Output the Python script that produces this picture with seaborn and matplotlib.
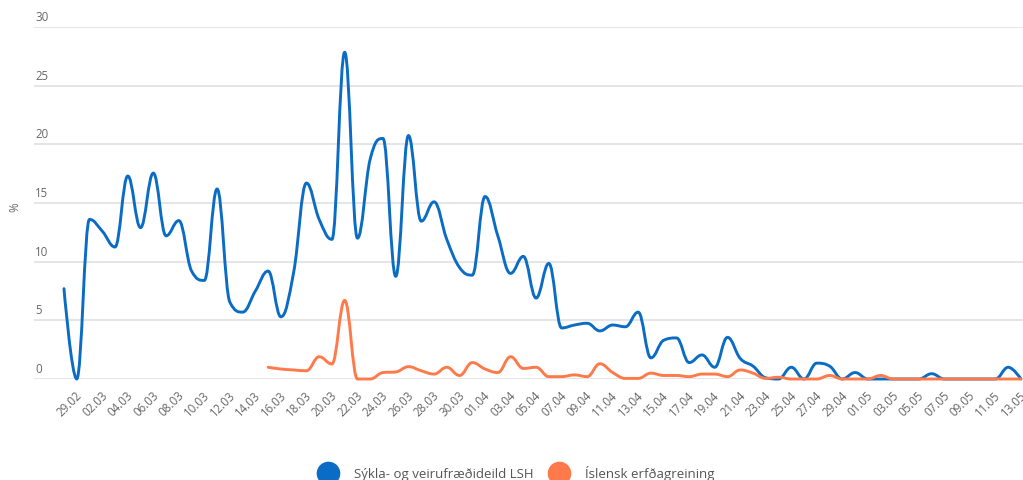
# Hlutfall jákvæðra sýna eftir rannsóknaraðila (LSH / ÍE)
import numpy as np
import pandas as pd
import matplotlib
matplotlib.use("Agg")
import matplotlib.pyplot as plt
import matplotlib.transforms as mtransforms
from matplotlib.path import Path
from matplotlib.patches import PathPatch
from matplotlib.lines import Line2D
import seaborn as sns

# --------------------------------------------
# Data
# --------------------------------------------
dates = pd.date_range("2020-02-28", "2020-05-13", freq="D")
day_labels = dates.strftime("%d.%m").tolist()

series_names = ["Sýkla- og veirufræðideild LSH", "Íslensk erfðagreining"]
series_colors = ["#0a6cc4", "#ff7a4a"]

lsh = [7.7, 0.0, 13.6, 12.6, 11.25, 17.3, 12.9, 17.55, 12.2, 13.5,
       9.2, 8.4, 16.2, 6.55, 5.7, 7.5, 9.2, 5.3, 9.1, 16.7,
       13.6, 11.9, 27.85, 12.0, 18.75, 20.5, 8.75, 20.75, 13.45, 15.1,
       11.9, 9.5, 8.85, 15.55, 12.2, 9.0, 10.45, 6.9, 9.85, 4.35,
       4.6, 4.75, 4.1, 4.6, 4.45, 5.7, 1.8, 3.3, 3.5, 1.4,
       2.05, 1.0, 3.55, 1.75, 1.1, 0.1, 0.0, 1.0, 0.0, 1.35,
       1.1, 0.0, 0.55, 0.0, 0.0, 0.0, 0.0, 0.0, 0.45, 0.0,
       0.0, 0.0, 0.0, 0.0, 1.0, 0.0]

ie = [None] * 16 + [
      1.0, 0.85, 0.77, 0.7, 1.9, 1.28, 6.7, 0.0, 0.0, 0.55,
      0.6, 1.05, 0.7, 0.42, 1.0, 0.3, 1.4, 0.85, 0.55, 1.9,
      0.9, 1.0, 0.2, 0.2, 0.35, 0.2, 1.3, 0.55, 0.05, 0.05,
      0.5, 0.3, 0.3, 0.2, 0.42, 0.42, 0.2, 0.77, 0.5, 0.05,
      0.15, 0.0, 0.0, 0.0, 0.3, 0.0, 0.0, 0.0, 0.3, 0.0,
      0.0, 0.0, 0.0, 0.0, 0.0, 0.0, 0.0, 0.0, 0.0, 0.0]

y_ticks = [0, 5, 10, 15, 20, 25, 30]

df = pd.DataFrame({
    "dagur": np.arange(len(day_labels)),
    "label": day_labels,
    series_names[0]: pd.array(lsh, dtype="Float64"),
    series_names[1]: pd.array(ie, dtype="Float64"),
})


# --------------------------------------------
# Spline helper (same control points as a Highcharts spline)
# --------------------------------------------
def spline_path(xs, ys, smoothing=1.5):
    pts = list(zip(xs, ys))
    n = len(pts)
    denom = smoothing + 1
    left_c = list(pts)
    right_c = list(pts)
    for i in range(1, n - 1):
        x, y = pts[i]
        lx, ly = pts[i - 1]
        nx, ny = pts[i + 1]
        lcx, lcy = (smoothing * x + lx) / denom, (smoothing * y + ly) / denom
        rcx, rcy = (smoothing * x + nx) / denom, (smoothing * y + ny) / denom
        if rcx != lcx:
            corr = (rcy - lcy) * (rcx - x) / (rcx - lcx) + y - rcy
            lcy += corr
            rcy += corr
        if lcy > ly and lcy > y:
            lcy = max(ly, y); rcy = 2 * y - lcy
        elif lcy < ly and lcy < y:
            lcy = min(ly, y); rcy = 2 * y - lcy
        if rcy > ny and rcy > y:
            rcy = max(ny, y); lcy = 2 * y - rcy
        elif rcy < ny and rcy < y:
            rcy = min(ny, y); lcy = 2 * y - rcy
        left_c[i] = (lcx, lcy)
        right_c[i] = (rcx, rcy)
    verts = [pts[0]]
    codes = [Path.MOVETO]
    for i in range(1, n):
        verts += [right_c[i - 1], left_c[i], pts[i]]
        codes += [Path.CURVE4] * 3
    return Path(verts, codes)


# --------------------------------------------
# Settings
# --------------------------------------------
sns.set_theme(style="white")
plt.rcParams["font.family"] = ["Open Sans", "DejaVu Sans"]

fig = plt.figure(figsize=(10.23, 4.81), dpi=100)
ax = fig.add_axes([34 / 1023, 101 / 481, 989 / 1023, 352 / 481])

# --------------------------------------------
# Lines
# --------------------------------------------
for name, color in zip(series_names, series_colors):
    sub = df[["dagur", name]].dropna()
    path = spline_path(sub["dagur"].astype(float).tolist(),
                       sub[name].astype(float).tolist())
    ax.add_patch(PathPatch(path, fill=False, edgecolor=color, lw=2.1,
                           capstyle="round", joinstyle="round",
                           clip_on=False, zorder=3))

# --------------------------------------------
# Axes
# --------------------------------------------
ax.set_xlim(-2.35, 75.16)
ax.set_ylim(0, 30)
sns.despine(ax=ax, left=True, bottom=True)

ax.set_yticks(y_ticks)
ax.yaxis.grid(True, color="#e3e3e3", lw=1.3)
ax.xaxis.grid(False)
ax.tick_params(axis="y", labelleft=False, length=0)
for v in y_ticks:
    ax.annotate(str(v), xy=(0, v), xycoords=("axes fraction", "data"),
                xytext=(1, 4), textcoords="offset pixels",
                ha="left", va="bottom", fontsize=8.3, color="#666666")

tick_pos = df["dagur"][1::2].tolist()
tick_lab = df["label"][1::2].tolist()
ax.set_xticks(tick_pos)
ax.set_xticklabels(tick_lab, rotation=45, ha="right", va="center",
                   rotation_mode="anchor", fontsize=8.3, color="#666666")
ax.tick_params(axis="x", length=0, pad=10)
shift = mtransforms.ScaledTranslation(3 / 100, 0, fig.dpi_scale_trans)
for lab in ax.get_xticklabels():
    lab.set_transform(lab.get_transform() + shift)

ax.set_ylabel("%", fontsize=8.3, color="#666666")
ax.yaxis.set_label_coords(-13 / 989, 0.49)

# --------------------------------------------
# Legend
# --------------------------------------------
handles = [Line2D([], [], marker="o", ls="none", markersize=16,
                  markerfacecolor=c, markeredgecolor=c)
           for c in series_colors]
fig.legend(handles, series_names, loc="center", bbox_to_anchor=(0.503, 0.015),
           ncol=2, frameon=False, fontsize=9.5, labelcolor="#555555",
           handlelength=2.0, handletextpad=1.0, columnspacing=0.9)

fig.savefig("out.png", dpi=100)
